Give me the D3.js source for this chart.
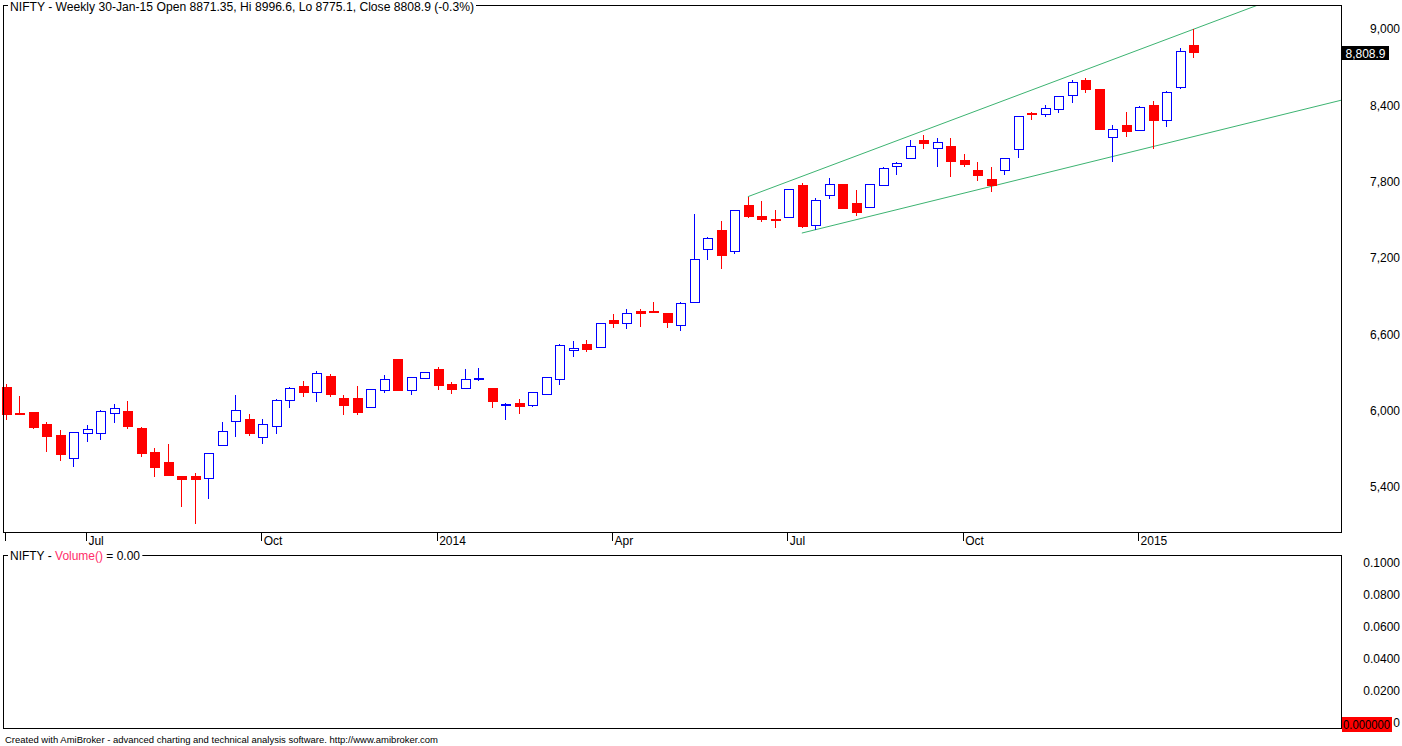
<!DOCTYPE html>
<html>
<head>
<meta charset="utf-8">
<style>
  body { margin: 0; background: #fff; }
  svg { display: block; font-family: "Liberation Sans", Arial, sans-serif; }
</style>
</head>
<body>
<div id="chart"></div>
<script src="https://cdn.jsdelivr.net/npm/d3@7"></script>
<script>

// weekly NIFTY candles, first week ends 24-May-13
var firstWeek = '2013-05-24';

var openP = [6186, 5981, 5989, 5895, 5808, 5625, 5822, 5822, 5979, 5997,
             5863, 5675, 5596, 5486, 5486, 5468, 5727, 5916, 5934, 5790,
             5877, 6081, 6191, 6144, 6272, 6099, 6099, 6026, 6160, 6406,
             6160, 6254, 6327, 6207, 6176, 6246, 6178, 6047, 6060, 6042,
             6128, 6251, 6479, 6524, 6498, 6712, 6687, 6783, 6783, 6765,
             6671, 6852, 7268, 7420, 7252, 7616, 7530, 7506, 7520, 7774,
             7457, 7693, 7782, 7632, 7603, 7771, 7921, 7984, 8125, 8062,
             8080, 7970, 7892, 7821, 7889, 8057, 8340, 8329, 8369, 8479,
             8599, 8528, 8149, 8243, 8204, 8400, 8282, 8542, 8871.35];

var highP = [6209, 6115, 5992, 5911, 5848, 5830, 5887, 6005, 6052, 6076,
             5871, 5706, 5738, 5490, 5510, 5665, 5911, 6123, 5974, 5934,
             6091, 6186, 6233, 6312, 6288, 6123, 6194, 6168, 6280, 6406,
             6262, 6301, 6343, 6223, 6327, 6335, 6178, 6058, 6091, 6144,
             6262, 6524, 6547, 6555, 6687, 6760, 6799, 6799, 6854, 6765,
             6852, 7546, 7365, 7491, 7575, 7682, 7648, 7577, 7740, 7787,
             7669, 7829, 7782, 7734, 7779, 7915, 7954, 8127, 8167, 8143,
             8143, 8017, 7954, 7915, 7986, 8314, 8350, 8403, 8471, 8599,
             8615, 8528, 8243, 8348, 8392, 8434, 8513, 8848, 8996.6];

var lowP = [5929, 5965, 5856, 5677, 5606, 5559, 5756, 5772, 5905, 5858,
            5635, 5481, 5486, 5245, 5111, 5308, 5727, 5790, 5803, 5735,
            5819, 6023, 6110, 6070, 6110, 5968, 5968, 6026, 6141, 6157,
            6125, 6254, 6165, 6133, 6176, 6235, 6023, 5929, 5976, 6031,
            6128, 6204, 6424, 6463, 6498, 6652, 6644, 6660, 6770, 6652,
            6628, 6852, 7186, 7116, 7234, 7517, 7485, 7438, 7520, 7438,
            7418, 7666, 7587, 7532, 7595, 7771, 7855, 7984, 8054, 7918,
            7839, 7918, 7807, 7721, 7855, 7983, 8287, 8306, 8342, 8421,
            8499, 8208, 7957, 8149, 8204, 8059, 8232, 8526, 8775.1];

var closeP = [5968, 5968, 5866, 5795, 5654, 5830, 5853, 5995, 6018, 5874,
              5661, 5551, 5488, 5457, 5457, 5665, 5838, 6003, 5819, 5893,
              6081, 6176, 6133, 6293, 6125, 6039, 5984, 6168, 6246, 6157,
              6262, 6301, 6196, 6157, 6246, 6257, 6070, 6052, 6031, 6144,
              6262, 6514, 6490, 6479, 6687, 6683, 6765, 6762, 6770, 6683,
              6844, 7190, 7355, 7218, 7575, 7524, 7501, 7493, 7740, 7446,
              7653, 7779, 7587, 7556, 7779, 7905, 7944, 8078, 8094, 8109,
              7957, 7933, 7847, 7768, 7986, 8314, 8326, 8377, 8471, 8581,
              8523, 8208, 8212, 8185, 8384, 8271, 8502, 8825, 8808.9];

var priceTicks = [5400, 6000, 6600, 7200, 7800, 8400, 9000];
var volumeTicks = [0, 0.02, 0.04, 0.06, 0.08, 0.1];
var dateTicks = ['2013-05-24', '2013-07-05', '2013-10-04', '2014-01-03',
                 '2014-04-04', '2014-07-04', '2014-10-03', '2015-01-02'];
var dateLabels = ['', 'Jul', 'Oct', '2014', 'Apr', 'Jul', 'Oct', '2015'];

// trend channel, two anchor points each (week, price)
var upperChannel = [['2014-06-13', 7682], ['2015-01-30', 8996.6]];
var lowerChannel = [['2014-07-11', 7396], ['2015-01-09', 8075]];

var titleText = 'NIFTY - Weekly 30-Jan-15 Open 8871.35, Hi 8996.6, Lo 8775.1, Close 8808.9 (-0.3%)';
var footerText = 'Created with AmiBroker - advanced charting and technical analysis software. http://www.amibroker.com';

var RED = '#ff0000', BLUE = '#0000ff', GREEN = '#3cb371';
var FONT = '"Liberation Sans", Arial, sans-serif';

var parse = d3.timeParse('%Y-%m-%d');
var start = parse(firstWeek);
var candles = openP.map(function(o, i) {
  return { date: d3.timeDay.offset(start, 7 * i), o: o, h: highP[i], l: lowP[i], c: closeP[i] };
});

var svg = d3.select('#chart').append('svg')
    .attr('width', 1402)
    .attr('height', 746);

var pane = { left: 3.5, right: 1341.5, top: 5.5, bottom: 532.5 };
var volPane = { top: 555.5, bottom: 728.5 };

var x = d3.scaleTime()
    .domain([candles[0].date, candles[candles.length - 1].date])
    .range([6, 1193]);
var y = d3.scaleLinear().domain([5400, 9000]).range([487, 29]);
var yv = d3.scaleLinear().domain([0, 0.1]).range([723, 563]);

svg.append('clipPath').attr('id', 'clipPrice')
  .append('rect')
    .attr('x', pane.left).attr('y', pane.top)
    .attr('width', pane.right - pane.left).attr('height', pane.bottom - pane.top);

// channel lines, extended to the right edge
function channel(pts) {
  var d0 = parse(pts[0][0]), d1 = parse(pts[1][0]);
  var slope = (pts[1][1] - pts[0][1]) / (d1 - d0);
  var dEnd = x.invert(pane.right + 2);
  return [[d0, pts[0][1]], [dEnd, pts[0][1] + slope * (dEnd - d0)]];
}
var lineGen = d3.line().x(function(d) { return x(d[0]); }).y(function(d) { return y(d[1]); });

svg.append('g').attr('clip-path', 'url(#clipPrice)')
  .selectAll('path')
  .data([channel(upperChannel), channel(lowerChannel)])
  .join('path')
    .attr('d', lineGen)
    .attr('fill', 'none')
    .attr('stroke', GREEN)
    .attr('stroke-width', 1);

// candles
var cx = function(d) { return Math.round(x(d.date)); };
var up = function(d) { return d.c >= d.o; };
var cg = svg.append('g');

cg.selectAll('line.wick').data(candles).join('line')
    .attr('class', 'wick')
    .attr('x1', function(d) { return cx(d) + 0.5; })
    .attr('x2', function(d) { return cx(d) + 0.5; })
    .attr('y1', function(d) { return y(d.h); })
    .attr('y2', function(d) { return y(d.l); })
    .attr('stroke', function(d) { return up(d) ? BLUE : RED; })
    .attr('stroke-width', 1)
    .attr('shape-rendering', 'crispEdges');

cg.selectAll('rect.down').data(candles.filter(function(d) { return !up(d); })).join('rect')
    .attr('class', 'down')
    .attr('x', function(d) { return cx(d) - 4; })
    .attr('width', 10)
    .attr('y', function(d) { return Math.round(y(d.o)); })
    .attr('height', function(d) { return Math.max(2, Math.round(y(d.c) - y(d.o))); })
    .attr('fill', RED)
    .attr('shape-rendering', 'crispEdges');

cg.selectAll('rect.up').data(candles.filter(up)).join('rect')
    .attr('class', 'up')
    .attr('x', function(d) { return cx(d) - 3.5; })
    .attr('width', 9)
    .attr('y', function(d) { return Math.round(y(d.c)) + 0.5; })
    .attr('height', function(d) { return Math.max(1, Math.round(y(d.o)) - Math.round(y(d.c))); })
    .attr('fill', '#fff')
    .attr('stroke', BLUE)
    .attr('stroke-width', 1)
    .attr('shape-rendering', 'crispEdges');

// pane frames
[pane, { left: pane.left, right: pane.right, top: volPane.top, bottom: volPane.bottom }].forEach(function(p) {
  svg.append('rect')
      .attr('x', p.left).attr('y', p.top)
      .attr('width', p.right - p.left).attr('height', p.bottom - p.top)
      .attr('fill', 'none').attr('stroke', '#000').attr('stroke-width', 1)
      .attr('shape-rendering', 'crispEdges');
});

// date axis
var xAxis = svg.append('g')
    .attr('transform', 'translate(-1,' + pane.bottom + ')')
    .call(d3.axisBottom(x)
      .tickValues(dateTicks.map(parse))
      .tickSize(8)
      .tickFormat(function(d, i) { return dateLabels[i]; }));
xAxis.select('.domain').remove();
xAxis.selectAll('line').attr('stroke', '#000').attr('shape-rendering', 'crispEdges');
xAxis.selectAll('text')
    .attr('text-anchor', 'start')
    .attr('x', 2).attr('y', 4)
    .attr('font-size', 12)
    .attr('font-family', FONT)
    .attr('fill', '#000');

// price axis
var yAxis = svg.append('g')
    .attr('transform', 'translate(1400,0)')
    .call(d3.axisLeft(y).tickValues(priceTicks).tickSize(0).tickPadding(0).tickFormat(d3.format(',')));
yAxis.select('.domain').remove();
yAxis.selectAll('text')
    .attr('font-size', 12)
    .attr('font-family', FONT)
    .attr('fill', '#000');

// last close marker
var lastC = candles[candles.length - 1].c;
svg.append('rect')
    .attr('x', 1342).attr('y', Math.round(y(lastC)) - 7)
    .attr('width', 47).attr('height', 14)
    .attr('fill', '#000');
svg.append('text')
    .attr('x', 1365.5).attr('y', y(lastC)).attr('dy', '0.36em')
    .attr('text-anchor', 'middle')
    .attr('font-size', 12)
    .attr('fill', '#fff')
    .text(d3.format(',.1f')(lastC));

// volume axis; the zero label is mostly hidden behind the red value box
var fmtVol = d3.format('.4f');
var vAxis = svg.append('g')
    .attr('transform', 'translate(1400,0)')
    .call(d3.axisLeft(yv).tickValues(volumeTicks).tickSize(0).tickPadding(0)
      .tickFormat(function(d) { return d === 0 ? '0' : fmtVol(d); }));
vAxis.select('.domain').remove();
vAxis.selectAll('text')
    .attr('font-size', 12)
    .attr('font-family', FONT)
    .attr('fill', '#000');

svg.append('rect')
    .attr('x', 1342).attr('y', Math.round(yv(0)) - 6)
    .attr('width', 50).attr('height', 15)
    .attr('fill', RED);
svg.append('text')
    .attr('x', 1343).attr('y', yv(0) + 1.5).attr('dy', '0.36em')
    .attr('font-size', 12)
    .attr('textLength', 47)
    .attr('lengthAdjust', 'spacingAndGlyphs')
    .attr('fill', '#000')
    .text(d3.format('.6f')(0));

// pane titles sitting on the top border
function paneTitle(yBase, parts, len) {
  var t = svg.append('text')
      .attr('x', 10).attr('y', yBase)
      .attr('font-size', 12);
  if (len) t.attr('textLength', len).attr('lengthAdjust', 'spacingAndGlyphs');
  parts.forEach(function(p) {
    t.append('tspan').attr('fill', p[1]).text(p[0]);
  });
  var bb = t.node().getBBox();
  svg.insert('rect', function() { return t.node(); })
      .attr('x', bb.x - 2).attr('y', bb.y)
      .attr('width', bb.width + 4).attr('height', bb.height)
      .attr('fill', '#fff');
}
paneTitle(11, [[titleText, '#000']], 464);
paneTitle(560, [['NIFTY - ', '#000'], ['Volume()', '#ff2d6a'], [' = 0.00', '#000']], 130);

svg.append('text')
    .attr('x', 5).attr('y', 743)
    .attr('font-size', 9)
    .attr('textLength', 433)
    .attr('lengthAdjust', 'spacingAndGlyphs')
    .attr('fill', '#000')
    .text(footerText);

</script>
</body>
</html>
